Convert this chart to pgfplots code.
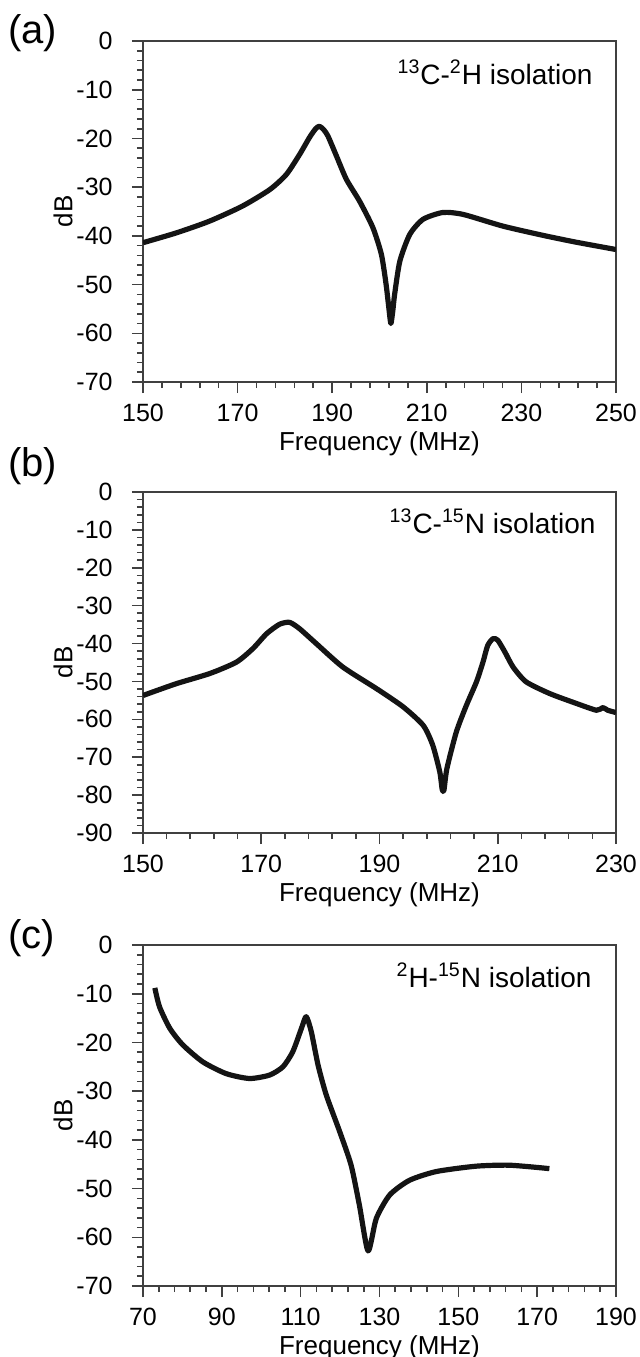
\documentclass[border=0pt]{standalone}
\usepackage{fontspec}
\setmainfont{Liberation Sans}
\usepackage{pgfplots}
\pgfplotsset{compat=1.18}

\pgfplotsset{
  panel/.style={
    scale only axis, width=236.5pt, height=170.5pt,
    anchor=south west,
    axis line style={black!75, line width=0.8pt},
    tick style={black!75, line width=0.8pt},
    tick align=outside, tick pos=left,
    major tick length=5.5pt, minor tick length=3pt,
    minor x tick num=4, minor y tick num=4,
    /pgf/number format/assume math mode=true,
    tick label style={font=\fontsize{12.5}{15}\selectfont},
    xticklabel style={anchor=base, yshift=-14pt},
    yticklabel style={anchor=east, inner sep=0pt, xshift=-9.5pt},
    label style={font=\fontsize{13}{15}\selectfont},
    xlabel={Frequency (MHz)}, ylabel={dB},
    xlabel style={at={([yshift=-34pt]axis description cs:0.5,0)}, anchor=base},
    ylabel style={at={([xshift=-40pt]axis description cs:0,0.5)}, anchor=center},
  },
  curve/.style={color=black!92, line width=2.6pt, line join=round, smooth, tension=0.4},
}
\tikzset{
  tag/.style={anchor=base east, font=\fontsize{14}{17}\selectfont, inner sep=0pt},
  plabel/.style={anchor=base west, font=\fontsize{20}{24}\selectfont, inner sep=0pt},
}

\begin{document}
\begin{tikzpicture}
\path[use as bounding box] (0,0) rectangle (319.5pt,-678.5pt);

% (a)
\begin{axis}[panel, at={(71.5pt,-191pt)},
  xmin=150, xmax=250, xtick={150,170,...,250},
  ymin=-70, ymax=0, ytick={-70,-60,...,0}]
\addplot[curve] coordinates {
(150,-41.4) (157,-39.4) (164,-37.0) (171,-33.9) (176.8,-30.5) (180.3,-27.4)
(183.1,-23.3) (185.2,-19.8) (186.5,-18.0) (187.3,-17.5) (188.2,-18.2) (189.1,-19.5)
(190.9,-23.6) (193.0,-28.4) (195.8,-32.9) (198.6,-38.3) (200.4,-43.8) (201.4,-50.0)
(202.0,-55.0) (202.4,-58.0) (202.8,-55.5) (203.2,-52.0) (204.3,-45.2) (206.4,-39.7)
(209.2,-36.6) (213.4,-35.2) (217.7,-35.6) (226.1,-38.0) (234.6,-39.9) (241.6,-41.3)
(250,-42.8)};
\node[tag] at ([xshift=-11.5pt,yshift=-21.5pt]rel axis cs:1,1) {\textsuperscript{13}C-\textsuperscript{2}H isolation};
\end{axis}

% (b)
\begin{axis}[panel, at={(71.5pt,-416.5pt)},
  xmin=150, xmax=230, xtick={150,170,...,230},
  ymin=-90, ymax=0, ytick={-90,-80,...,0}]
\addplot[curve] coordinates {
(150,-53.7) (155.6,-50.6) (161.3,-47.9) (165.8,-44.9) (168.6,-41.3) (170.9,-37.4)
(173.1,-34.9) (174.8,-34.4) (176.5,-36.1) (179.3,-40.0) (183.8,-46.2) (189.5,-51.9)
(194.0,-56.7) (197.4,-61.6) (199.0,-66.8) (200.2,-73.9) (200.6,-78.5) (200.9,-78.7)
(201.4,-73.0) (203.0,-63.3) (204.7,-56.3) (206.4,-50.1) (207.5,-44.9) (208.3,-40.5)
(209.2,-38.7) (210.0,-39.1) (211.2,-42.2) (212.6,-46.2) (214.8,-50.1) (218.8,-53.2)
(223.3,-55.8) (226.7,-57.6) (227.8,-56.9) (228.6,-57.6) (230,-58.2)};
\node[tag] at ([xshift=-10pt,yshift=-20.5pt]rel axis cs:1,1) {\textsuperscript{13}C-\textsuperscript{15}N isolation};
\end{axis}

% (c)
\begin{axis}[panel, at={(71.5pt,-643pt)},
  xmin=70, xmax=190, xtick={70,90,...,190},
  ymin=-70, ymax=0, ytick={-70,-60,...,0}]
\addplot[curve] coordinates {
(73.0,-8.8) (74.2,-12.7) (76.8,-17.1) (80.1,-20.5) (85.2,-24.0) (91.1,-26.4)
(97.0,-27.4) (102.1,-26.7) (105.5,-25.0) (108.0,-21.9) (110.2,-17.1) (111.4,-14.7)
(112.7,-17.8) (114.4,-24.6) (116.5,-30.8) (119.9,-38.3) (122.8,-45.2) (124.9,-53.4)
(127.1,-62.8) (129.2,-56.1) (132.6,-51.3) (137.6,-48.3) (144.4,-46.5) (154.5,-45.4)
(163.0,-45.2) (173.1,-45.9)};
\node[tag] at ([xshift=-12pt,yshift=-21pt]rel axis cs:1,1) {\textsuperscript{2}H-\textsuperscript{15}N isolation};
\end{axis}

\node[plabel] at (4pt,-21.8pt) {(a)};
\node[plabel] at (4pt,-238.3pt) {(b)};
\node[plabel] at (4pt,-474.3pt) {(c)};
\end{tikzpicture}
\end{document}
